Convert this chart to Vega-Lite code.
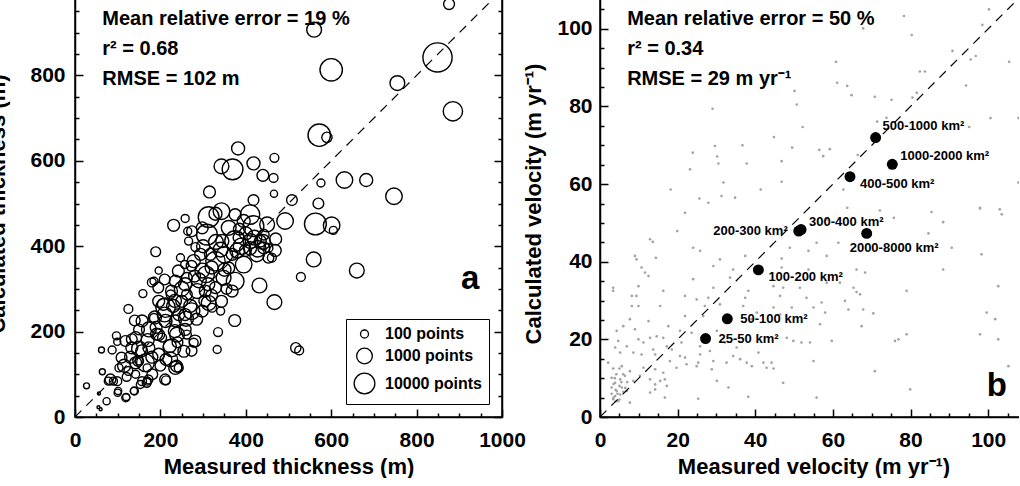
{
  "$schema": "https://vega.github.io/schema/vega-lite/v6.json",
  "background": "white",
  "padding": {"left": -15, "top": -22, "right": -10, "bottom": 0},
  "autosize": {"type": "pad"},
  "bounds": "flush",
  "spacing": 98,
  "config": {
    "font": "Liberation Sans",
    "view": {"stroke": "black", "strokeWidth": 1.5},
    "axis": {
      "grid": false,
      "labelFont": "Liberation Sans",
      "labelFontWeight": "bold",
      "labelFontSize": 21,
      "labelColor": "black",
      "labelFlush": false,
      "labelOverlap": false,
      "titleFont": "Liberation Sans",
      "titleFontWeight": "bold",
      "titleFontSize": 22,
      "titleColor": "black",
      "domainColor": "black",
      "domainWidth": 1.5,
      "tickColor": "black",
      "tickWidth": 1.5
    },
    "text": {"font": "Liberation Sans", "fontWeight": "bold", "color": "black"}
  },
  "datasets": {
    "thick": [
      {"m":876,"c":967,"n":200},{"m":560,"c":907,"n":700},{"m":600,"c":813,"n":25000},{"m":849,"c":842,"n":2000000},
      {"m":755,"c":782,"n":700},{"m":885,"c":716,"n":5000},{"m":572,"c":660,"n":25000},{"m":590,"c":655,"n":170},
      {"m":382,"c":629,"n":380},{"m":343,"c":587,"n":700},{"m":369,"c":580,"n":10000},{"m":418,"c":594,"n":380},
      {"m":467,"c":607,"n":120},{"m":440,"c":566,"n":260},{"m":465,"c":560,"n":120},{"m":466,"c":523,"n":85},
      {"m":576,"c":548,"n":100},{"m":631,"c":555,"n":1400},{"m":682,"c":555,"n":380},{"m":747,"c":517,"n":1400},
      {"m":508,"c":508,"n":190},{"m":570,"c":500,"n":190},{"m":315,"c":527,"n":260},{"m":418,"c":508,"n":190},
      {"m":563,"c":452,"n":18000},{"m":601,"c":449,"n":1400},{"m":605,"c":437,"n":100},{"m":492,"c":459,"n":1400},
      {"m":470,"c":417,"n":260},{"m":559,"c":369,"n":700},{"m":529,"c":328,"n":120},{"m":660,"c":343,"n":700},
      {"m":432,"c":308,"n":700},{"m":467,"c":269,"n":700},{"m":374,"c":226,"n":260},{"m":335,"c":199,"n":120},
      {"m":333,"c":158,"n":100},{"m":517,"c":162,"n":170},{"m":525,"c":156,"n":120},{"m":341,"c":248,"n":100},
      {"m":428,"c":394,"n":1400},{"m":453,"c":373,"n":190},{"m":231,"c":449,"n":260},{"m":258,"c":465,"n":100},
      {"m":264,"c":435,"n":100},{"m":189,"c":387,"n":150},{"m":313,"c":468,"n":10000},{"m":343,"c":482,"n":1400},
      {"m":375,"c":474,"n":260},{"m":410,"c":474,"n":5000},{"m":418,"c":447,"n":10000},{"m":450,"c":451,"n":700},
      {"m":27,"c":73,"n":70},{"m":62,"c":157,"n":70},{"m":87,"c":157,"n":100},{"m":97,"c":190,"n":100},
      {"m":99,"c":176,"n":85},{"m":56,"c":55,"n":50},{"m":55,"c":23,"n":50},{"m":60,"c":18,"n":50},
      {"m":74,"c":37,"n":85},{"m":64,"c":106,"n":70},{"m":83,"c":88,"n":190},{"m":99,"c":84,"n":120},
      {"m":103,"c":115,"n":100},{"m":101,"c":61,"n":85},{"m":120,"c":47,"n":85},{"m":138,"c":61,"n":85},
      {"m":125,"c":253,"n":120},{"m":140,"c":226,"n":190},{"m":133,"c":162,"n":260},{"m":142,"c":127,"n":260},
      {"m":157,"c":84,"n":120},{"m":169,"c":84,"n":100},{"m":150,"c":131,"n":100},{"m":165,"c":127,"n":2300},
      {"m":173,"c":205,"n":700},{"m":159,"c":289,"n":100},{"m":185,"c":318,"n":100},{"m":196,"c":343,"n":85},
      {"m":210,"c":322,"n":190},{"m":212,"c":256,"n":5000},{"m":213,"c":135,"n":260},{"m":213,"c":86,"n":120},
      {"m":227,"c":162,"n":2300},{"m":235,"c":115,"n":380},{"m":239,"c":193,"n":700},{"m":247,"c":373,"n":100},
      {"m":257,"c":357,"n":100},{"m":262,"c":326,"n":190},{"m":266,"c":412,"n":100},{"m":273,"c":248,"n":1400},
      {"m":278,"c":174,"n":120},{"m":285,"c":229,"n":260},{"m":282,"c":398,"n":120},{"m":286,"c":295,"n":700},
      {"m":307,"c":334,"n":1400},{"m":313,"c":267,"n":700},{"m":309,"c":427,"n":10000},{"m":329,"c":365,"n":5000},
      {"m":348,"c":326,"n":700},{"m":368,"c":295,"n":260},{"m":375,"c":412,"n":10000},{"m":395,"c":357,"n":1400},
      {"m":411,"c":412,"n":700},{"m":426,"c":381,"n":700},{"m":442,"c":396,"n":260},{"m":461,"c":373,"n":120},
      {"m":360,"c":443,"n":700},{"m":341,"c":392,"n":700},{"m":294,"c":381,"n":260},{"m":375,"c":318,"n":2300},
      {"m":329,"c":303,"n":260},{"m":305,"c":295,"n":260},{"m":250,"c":271,"n":260},{"m":235,"c":225,"n":260},
      {"m":224,"c":287,"n":120},{"m":173,"c":162,"n":260},{"m":196,"c":193,"n":260},{"m":185,"c":232,"n":120},
      {"m":125,"c":108,"n":120},{"m":109,"c":139,"n":190},{"m":142,"c":100,"n":100},{"m":169,"c":115,"n":100},
      {"m":204,"c":186,"n":120},{"m":262,"c":193,"n":120},{"m":255,"c":154,"n":260},{"m":223,"c":135,"n":700},
      {"m":196,"c":147,"n":260},{"m":243,"c":240,"n":260},{"m":262,"c":287,"n":190},{"m":298,"c":343,"n":700},
      {"m":317,"c":381,"n":260},{"m":345,"c":412,"n":380},{"m":368,"c":381,"n":260},{"m":383,"c":420,"n":190},
      {"m":399,"c":390,"n":260},{"m":329,"c":476,"n":380},{"m":298,"c":443,"n":260},{"m":274,"c":435,"n":190},
      {"m":360,"c":349,"n":260},{"m":321,"c":256,"n":120},{"m":196,"c":271,"n":260},{"m":157,"c":225,"n":260},
      {"m":142,"c":186,"n":260},{"m":118,"c":178,"n":190},{"m":181,"c":100,"n":190},{"m":243,"c":115,"n":120},
      {"m":212,"c":225,"n":380},{"m":278,"c":365,"n":380},{"m":235,"c":318,"n":260},{"m":343,"c":271,"n":260},
      {"m":298,"c":248,"n":260},{"m":395,"c":459,"n":380},{"m":442,"c":427,"n":190},{"m":453,"c":396,"n":120},
      {"m":469,"c":390,"n":260},{"m":434,"c":412,"n":260},
      {"m":78,"c":84,"n":100},{"m":90,"c":84,"n":100},{"m":100,"c":57,"n":85},{"m":119,"c":45,"n":100},
      {"m":139,"c":61,"n":100},{"m":121,"c":94,"n":120},{"m":180,"c":315,"n":120},{"m":133,"c":182,"n":190},
      {"m":156,"c":155,"n":260},{"m":148,"c":131,"n":190},{"m":168,"c":80,"n":120},{"m":153,"c":76,"n":100},
      {"m":172,"c":88,"n":120},{"m":211,"c":88,"n":190},{"m":222,"c":166,"n":380},{"m":234,"c":201,"n":380},
      {"m":258,"c":205,"n":260},{"m":281,"c":178,"n":260},{"m":273,"c":155,"n":190},{"m":238,"c":119,"n":260},
      {"m":191,"c":194,"n":260},{"m":187,"c":233,"n":380},{"m":207,"c":264,"n":260},{"m":234,"c":272,"n":380},
      {"m":258,"c":240,"n":260},{"m":226,"c":295,"n":260},{"m":195,"c":303,"n":190},{"m":304,"c":272,"n":260},
      {"m":312,"c":311,"n":380},{"m":258,"c":311,"n":380},{"m":242,"c":342,"n":260},{"m":273,"c":354,"n":190},
      {"m":290,"c":320,"n":700},{"m":320,"c":350,"n":380},{"m":350,"c":380,"n":1400},{"m":380,"c":390,"n":700},
      {"m":400,"c":430,"n":380},{"m":420,"c":420,"n":700},{"m":330,"c":410,"n":700},{"m":300,"c":400,"n":380},
      {"m":280,"c":330,"n":260},{"m":250,"c":300,"n":700},{"m":230,"c":260,"n":380},{"m":210,"c":240,"n":700},
      {"m":190,"c":210,"n":260},{"m":170,"c":180,"n":380},{"m":150,"c":160,"n":700},{"m":130,"c":140,"n":260},
      {"m":115,"c":120,"n":380},{"m":240,"c":175,"n":190},{"m":260,"c":230,"n":700},{"m":350,"c":345,"n":380},
      {"m":390,"c":400,"n":1400},{"m":410,"c":395,"n":380},{"m":355,"c":300,"n":190},{"m":320,"c":285,"n":260},
      {"m":200,"c":120,"n":190},{"m":180,"c":140,"n":260},{"m":150,"c":205,"n":190},{"m":270,"c":260,"n":380},
      {"m":440,"c":410,"n":700},{"m":385,"c":440,"n":260}
    ],
    "vel": [
      {"m":100.2,"c":105.0},{"m":78.3,"c":103.3},{"m":67.8,"c":100.1},{"m":80.3,"c":98.4},{"m":98.5,"c":101},
      {"m":90.8,"c":94.3},{"m":95.5,"c":92.1},{"m":96.8,"c":93},{"m":105.4,"c":91.5},{"m":60.8,"c":91.5},
      {"m":82.4,"c":89},{"m":83.7,"c":89},{"m":94.3,"c":85.4},{"m":61.1,"c":86.1},{"m":63.7,"c":85.3},
      {"m":50.1,"c":84},{"m":81.6,"c":83.5},{"m":64.8,"c":82.9},{"m":70.8,"c":82.5},{"m":75.1,"c":81.7},
      {"m":80.5,"c":82.3},{"m":50.7,"c":80.5},{"m":29,"c":79.4},{"m":100.6,"c":77},{"m":107.8,"c":77},
      {"m":71.4,"c":76.1},{"m":73.8,"c":77.1},{"m":95.1,"c":74.7},{"m":52.2,"c":74.7},{"m":44.8,"c":72.1},
      {"m":29.6,"c":69.8},{"m":36.7,"c":70},{"m":49.5,"c":69.4},{"m":56.5,"c":68.8},{"m":59.2,"c":69},
      {"m":23.9,"c":68.1},{"m":30.2,"c":67.1},{"m":57.5,"c":67.2},{"m":30.5,"c":65.3},{"m":37.8,"c":65.3},
      {"m":46.8,"c":65.9},{"m":66.4,"c":67.5},{"m":23.2,"c":63.8},{"m":46.8,"c":60.6},{"m":31.8,"c":60.4},
      {"m":18.2,"c":58.6},{"m":41.4,"c":58.6},{"m":62.7,"c":58.6},{"m":25.6,"c":56.3},{"m":27.9,"c":55.2},
      {"m":31.3,"c":56.9},{"m":34.8,"c":56.5},{"m":72.1,"c":53.2},{"m":63.7,"c":53.9},{"m":107.8,"c":60.4},
      {"m":97.9,"c":53.9},{"m":103,"c":53.5},
      {"m":21.9,"c":52.6},{"m":85.4,"c":52.8},{"m":97.9,"c":53.7},{"m":103.5,"c":52.2},{"m":75.7,"c":51.3},
      {"m":88.4,"c":50.2},{"m":58.4,"c":50.9},{"m":19.9,"c":47.9},{"m":84.6,"c":47.3},{"m":12.9,"c":45.8},
      {"m":13.6,"c":45.1},{"m":24,"c":43.6},{"m":25.8,"c":42.8},{"m":9,"c":41.5},{"m":9.4,"c":40.6},
      {"m":14.4,"c":41},{"m":30.9,"c":40.6},{"m":37.4,"c":41.5},{"m":46.8,"c":40.8},{"m":53.7,"c":42.8},
      {"m":58.4,"c":41.5},{"m":61.4,"c":44.9},{"m":55.8,"c":44.9},{"m":48.9,"c":43.6},{"m":90.6,"c":43.6},
      {"m":98.3,"c":41.9},{"m":10.7,"c":38.5},{"m":11.6,"c":37.2},{"m":12.5,"c":36.3},{"m":29.2,"c":38.9},
      {"m":34.3,"c":38},{"m":46.8,"c":38.5},{"m":53.7,"c":38},{"m":66.1,"c":38},{"m":88.4,"c":38},
      {"m":68.3,"c":37.2},{"m":3.4,"c":33.3},{"m":3.4,"c":32.5},{"m":9.9,"c":33.7},{"m":16.3,"c":32.5},
      {"m":24,"c":35.5},{"m":29.2,"c":33.3},{"m":33.5,"c":35.9},{"m":38.2,"c":32.5},{"m":44.7,"c":33.7},
      {"m":47.2,"c":33.3},{"m":51.5,"c":33.3},{"m":58.4,"c":34.6},{"m":61.8,"c":34.6},{"m":65.3,"c":33.3},
      {"m":66.1,"c":32.2},{"m":79,"c":32.5},{"m":102.6,"c":33.7},{"m":8.2,"c":31.2},{"m":9.4,"c":31.2},
      {"m":21.9,"c":31.2},{"m":24.9,"c":30.3},{"m":27.9,"c":30.7},{"m":37.4,"c":30.7},{"m":46.4,"c":31.2},
      {"m":53.2,"c":30.7},{"m":57.1,"c":29.5},{"m":63.1,"c":29.9},{"m":67,"c":31.6},{"m":8.2,"c":28.6},
      {"m":9.9,"c":28.6},{"m":15.5,"c":28.6},{"m":27,"c":28.6},{"m":30.9,"c":29},{"m":36.9,"c":28.6},
      {"m":40.4,"c":26.9},{"m":44.7,"c":28.2},{"m":49.4,"c":28.2},{"m":55,"c":28.2},{"m":64,"c":27.7},
      {"m":67.8,"c":27.7},{"m":99.6,"c":26.9},{"m":7.7,"c":25.2},{"m":12.5,"c":24.7},{"m":21.9,"c":26},
      {"m":26.6,"c":26},{"m":39.1,"c":25.2},{"m":46.4,"c":26.4},{"m":58,"c":26.9},{"m":70.4,"c":26.7},
      {"m":101.8,"c":25.2},{"m":4.3,"c":22.2},{"m":6,"c":23.4},{"m":9,"c":22.6},{"m":17.6,"c":23.4},
      {"m":20.6,"c":22.2},{"m":23.6,"c":21.7},{"m":30.1,"c":22.2},{"m":56.7,"c":23.9},{"m":67.4,"c":23.4},
      {"m":79,"c":21.3},{"m":76.9,"c":20},{"m":76,"c":19.6},{"m":97.9,"c":21.3},{"m":102.6,"c":20},
      {"m":4.7,"c":19.6},{"m":6.9,"c":18.2},{"m":9.9,"c":20},{"m":11.2,"c":19.2},{"m":12.9,"c":20.4},
      {"m":14.6,"c":20.8},{"m":16.3,"c":20.4},{"m":17.2,"c":18.2},{"m":21,"c":19.2},{"m":25.8,"c":18.2},
      {"m":32.2,"c":19.2},{"m":35.2,"c":17.9},{"m":48.1,"c":20.4},{"m":49.8,"c":19.6},{"m":51.9,"c":19.2},
      {"m":54.1,"c":19.2},{"m":59.7,"c":19.6},{"m":3.9,"c":17.9},{"m":5.2,"c":16.6},{"m":8.6,"c":16.6},
      {"m":10.7,"c":16.1},{"m":13.7,"c":17.4},{"m":14.2,"c":16.1},{"m":18.5,"c":17.4},{"m":20.6,"c":15.7},
      {"m":21.9,"c":15.3},{"m":25.8,"c":16.1},{"m":28.3,"c":17},{"m":34.3,"c":15.7},{"m":36.1,"c":14.9},
      {"m":40.8,"c":16.6},{"m":18,"c":14.4},{"m":22.3,"c":13.6},{"m":25.3,"c":14},{"m":29.2,"c":14.4},
      {"m":32.6,"c":14},{"m":37.8,"c":14},{"m":42.1,"c":14},{"m":44.2,"c":14},{"m":44.7,"c":12.5},
      {"m":55,"c":14.4},{"m":42.9,"c":12.7},{"m":2.1,"c":14},{"m":3.4,"c":12.5},{"m":5.6,"c":13.1},
      {"m":7.7,"c":11.8},{"m":11.2,"c":12.7},{"m":14.2,"c":12.3},{"m":16.3,"c":11.4},{"m":19.7,"c":12.7},
      {"m":24.9,"c":13.1},{"m":28.8,"c":12.3},{"m":39.1,"c":13.1},{"m":70.8,"c":11.8},{"m":105.2,"c":13.1},
      {"m":3,"c":10.1},{"m":3.9,"c":8.8},{"m":5.2,"c":9.7},{"m":6.4,"c":10.6},{"m":8.6,"c":9.3},
      {"m":10.3,"c":10.6},{"m":12.9,"c":9.7},{"m":14.2,"c":8.4},{"m":15.5,"c":9.3},{"m":17.2,"c":8},
      {"m":16.7,"c":9.7},{"m":30.1,"c":9.3},{"m":47.2,"c":8.8},{"m":3,"c":7.6},{"m":4.3,"c":6.7},
      {"m":5.6,"c":7.6},{"m":6.9,"c":6.7},{"m":3.9,"c":5.4},{"m":5.2,"c":5.8},{"m":12.9,"c":6.3},
      {"m":14.2,"c":7.1},{"m":16.7,"c":5},{"m":33.1,"c":7.6},{"m":79.9,"c":7.1},{"m":3.4,"c":4.6},
      {"m":4.7,"c":4.1},{"m":7.7,"c":3.7},{"m":25.3,"c":4.7},{"m":38.2,"c":5.2},{"m":55.8,"c":5},
      {"m":3.5,"c":5},{"m":4,"c":7},{"m":4.5,"c":6},{"m":5,"c":8},{"m":5.5,"c":9},{"m":3.8,"c":10},
      {"m":4.2,"c":11},{"m":6,"c":6.5},{"m":6.5,"c":7.5},{"m":5,"c":4.5},{"m":4,"c":4},{"m":3,"c":6},
      {"m":7,"c":9},{"m":6,"c":11},{"m":5,"c":12.5},{"m":3.5,"c":8.5}
    ],
    "groups": [
      {"g":"25-50 km²","m":27.2,"c":20.2},
      {"g":"50-100 km²","m":32.8,"c":25.3},
      {"g":"100-200 km²","m":40.8,"c":37.9},
      {"g":"200-300 km²","m":51.2,"c":47.9},
      {"g":"300-400 km²","m":51.8,"c":48.3},
      {"g":"400-500 km²","m":64.4,"c":61.9},
      {"g":"500-1000 km²","m":71.0,"c":72.0},
      {"g":"1000-2000 km²","m":75.3,"c":65.1},
      {"g":"2000-8000 km²","m":68.7,"c":47.3}
    ]
  },
  "hconcat": [
    {
      "width": 427,
      "height": 427,
      "layer": [
        {
          "data": {"name": "thick"},
          "mark": {"type": "point", "shape": "circle", "filled": false, "stroke": "black", "strokeWidth": 1.4, "opacity": 1},
          "encoding": {
            "x": {
              "field": "m", "type": "quantitative",
              "scale": {"domain": [0, 1000], "nice": false, "zero": false},
              "axis": {
                "orient": "bottom",
                "title": "Measured thickness (m)",
                "titlePadding": 2,
                "values": [0,50,100,150,200,250,300,350,400,450,500,550,600,650,700,750,800,850,900,950,1000],
                "labelExpr": "datum.value % 200 === 0 ? '' + datum.value : ''",
                "tickSize": {"condition": {"test": "datum.value % 200 === 0", "value": -8}, "value": -4},
                "labelPadding": 20
              }
            },
            "y": {
              "field": "c", "type": "quantitative",
              "scale": {"domain": [0, 1000], "nice": false, "zero": false},
              "axis": {
                "orient": "left",
                "title": "Calculated thickness (m)",
                "titlePadding": 9,
                "values": [0,50,100,150,200,250,300,350,400,450,500,550,600,650,700,750,800,850,900,950,1000],
                "labelExpr": "datum.value % 200 === 0 ? '' + datum.value : ''",
                "tickSize": {"condition": {"test": "datum.value % 200 === 0", "value": -8}, "value": -4},
                "labelPadding": 18
              }
            },
            "size": {
              "field": "n", "type": "quantitative",
              "scale": {"type": "log", "domain": [100, 10000], "range": [64, 430]},
              "legend": {
                "orient": "bottom-right",
                "offset": 13,
                "title": null,
                "values": [100, 1000, 10000],
                "labelExpr": "datum.value + ' points'",
                "symbolType": "circle",
                "symbolFillColor": "transparent",
                "symbolStrokeColor": "black",
                "symbolStrokeWidth": 1.3,
                "strokeColor": "black",
                "fillColor": "white",
                "padding": 7,
                "rowPadding": 3,
                "labelOffset": 9,
                "labelFont": "Liberation Sans",
                "labelFontWeight": "bold",
                "labelFontSize": 16,
                "labelColor": "black"
              }
            }
          }
        },
        {
          "data": {"values": [{"m": 0, "c": 0}, {"m": 1000, "c": 1000}]},
          "mark": {"type": "line", "color": "black", "strokeWidth": 1.2, "strokeDash": [9, 7], "clip": true},
          "encoding": {
            "x": {
              "field": "m", "type": "quantitative",
              "axis": {
                "orient": "top", "title": null, "labels": false,
                "values": [0,50,100,150,200,250,300,350,400,450,500,550,600,650,700,750,800,850,900,950,1000],
                "tickSize": {"condition": {"test": "datum.value % 200 === 0", "value": -8}, "value": -4}
              }
            },
            "y": {
              "field": "c", "type": "quantitative",
              "axis": {
                "orient": "right", "title": null, "labels": false,
                "values": [0,50,100,150,200,250,300,350,400,450,500,550,600,650,700,750,800,850,900,950,1000],
                "tickSize": {"condition": {"test": "datum.value % 200 === 0", "value": -8}, "value": -4}
              }
            }
          }
        },
        {
          "data": {"values": [
            {"t": "Mean relative error = 19 %", "m": 64, "c": 932},
            {"t": "r² = 0.68", "m": 64, "c": 862},
            {"t": "RMSE = 102 m", "m": 64, "c": 792}
          ]},
          "mark": {"type": "text", "align": "left", "baseline": "middle", "fontSize": 20, "fontWeight": "bold", "color": "black"},
          "encoding": {
            "x": {"field": "m", "type": "quantitative", "axis": null},
            "y": {"field": "c", "type": "quantitative", "axis": null},
            "text": {"field": "t"}
          }
        },
        {
          "data": {"values": [{"t": "a", "m": 904, "c": 300}]},
          "mark": {"type": "text", "align": "left", "baseline": "alphabetic", "fontSize": 33, "fontWeight": "bold", "color": "black"},
          "encoding": {
            "x": {"field": "m", "type": "quantitative", "axis": null},
            "y": {"field": "c", "type": "quantitative", "axis": null},
            "text": {"field": "t"}
          }
        }
      ],
      "resolve": {"axis": {"x": "independent", "y": "independent"}}
    },
    {
      "width": 427,
      "height": 427,
      "layer": [
        {
          "data": {"name": "vel"},
          "mark": {"type": "circle", "color": "#a2a2a2", "size": 7, "opacity": 1},
          "encoding": {
            "x": {
              "field": "m", "type": "quantitative",
              "scale": {"domain": [0, 110], "nice": false, "zero": false},
              "axis": {
                "orient": "bottom",
                "title": "Measured velocity (m yr⁻¹)",
                "titlePadding": 2,
                "values": [0,5,10,15,20,25,30,35,40,45,50,55,60,65,70,75,80,85,90,95,100,105,110],
                "labelExpr": "datum.value % 20 === 0 ? '' + datum.value : ''",
                "tickSize": {"condition": {"test": "datum.value % 20 === 0", "value": -8}, "value": -4},
                "labelPadding": 20
              }
            },
            "y": {
              "field": "c", "type": "quantitative",
              "scale": {"domain": [0, 110], "nice": false, "zero": false},
              "axis": {
                "orient": "left",
                "title": "Calculated velocity (m yr⁻¹)",
                "titlePadding": 11,
                "values": [0,5,10,15,20,25,30,35,40,45,50,55,60,65,70,75,80,85,90,95,100,105,110],
                "labelExpr": "datum.value % 20 === 0 ? '' + datum.value : ''",
                "tickSize": {"condition": {"test": "datum.value % 20 === 0", "value": -8}, "value": -4},
                "labelPadding": 16
              }
            }
          }
        },
        {
          "data": {"values": [{"m": 0, "c": 0}, {"m": 110, "c": 110}]},
          "mark": {"type": "line", "color": "black", "strokeWidth": 1.2, "strokeDash": [9, 7], "clip": true},
          "encoding": {
            "x": {
              "field": "m", "type": "quantitative",
              "axis": {
                "orient": "top", "title": null, "labels": false,
                "values": [0,5,10,15,20,25,30,35,40,45,50,55,60,65,70,75,80,85,90,95,100,105,110],
                "tickSize": {"condition": {"test": "datum.value % 20 === 0", "value": -8}, "value": -4}
              }
            },
            "y": {
              "field": "c", "type": "quantitative",
              "axis": {
                "orient": "right", "title": null, "labels": false,
                "values": [0,5,10,15,20,25,30,35,40,45,50,55,60,65,70,75,80,85,90,95,100,105,110],
                "tickSize": {"condition": {"test": "datum.value % 20 === 0", "value": -8}, "value": -4}
              }
            }
          }
        },
        {
          "data": {"name": "groups"},
          "mark": {"type": "circle", "color": "black", "size": 120, "opacity": 1},
          "encoding": {
            "x": {"field": "m", "type": "quantitative", "axis": null},
            "y": {"field": "c", "type": "quantitative", "axis": null}
          }
        },
        {
          "data": {"name": "groups"},
          "transform": [{"filter": {"field": "g", "oneOf": ["25-50 km²", "50-100 km²"]}}],
          "mark": {"type": "text", "align": "left", "baseline": "middle", "dx": 13, "dy": 0, "fontSize": 13, "fontWeight": "bold", "color": "black"},
          "encoding": {
            "x": {"field": "m", "type": "quantitative", "axis": null},
            "y": {"field": "c", "type": "quantitative", "axis": null},
            "text": {"field": "g"}
          }
        },
        {
          "data": {"name": "groups"},
          "transform": [{"filter": {"field": "g", "oneOf": ["100-200 km²", "400-500 km²"]}}],
          "mark": {"type": "text", "align": "left", "baseline": "middle", "dx": 10, "dy": 7, "fontSize": 13, "fontWeight": "bold", "color": "black"},
          "encoding": {
            "x": {"field": "m", "type": "quantitative", "axis": null},
            "y": {"field": "c", "type": "quantitative", "axis": null},
            "text": {"field": "g"}
          }
        },
        {
          "data": {"name": "groups"},
          "transform": [{"filter": {"field": "g", "oneOf": ["300-400 km²", "1000-2000 km²"]}}],
          "mark": {"type": "text", "align": "left", "baseline": "middle", "dx": 8, "dy": -8, "fontSize": 13, "fontWeight": "bold", "color": "black"},
          "encoding": {
            "x": {"field": "m", "type": "quantitative", "axis": null},
            "y": {"field": "c", "type": "quantitative", "axis": null},
            "text": {"field": "g"}
          }
        },
        {
          "data": {"name": "groups"},
          "transform": [{"filter": {"field": "g", "oneOf": ["500-1000 km²"]}}],
          "mark": {"type": "text", "align": "left", "baseline": "middle", "dx": 7, "dy": -12, "fontSize": 13, "fontWeight": "bold", "color": "black"},
          "encoding": {
            "x": {"field": "m", "type": "quantitative", "axis": null},
            "y": {"field": "c", "type": "quantitative", "axis": null},
            "text": {"field": "g"}
          }
        },
        {
          "data": {"name": "groups"},
          "transform": [{"filter": {"field": "g", "oneOf": ["200-300 km²"]}}],
          "mark": {"type": "text", "align": "right", "baseline": "middle", "dx": -11, "dy": 0, "fontSize": 13, "fontWeight": "bold", "color": "black"},
          "encoding": {
            "x": {"field": "m", "type": "quantitative", "axis": null},
            "y": {"field": "c", "type": "quantitative", "axis": null},
            "text": {"field": "g"}
          }
        },
        {
          "data": {"name": "groups"},
          "transform": [{"filter": {"field": "g", "oneOf": ["2000-8000 km²"]}}],
          "mark": {"type": "text", "align": "left", "baseline": "middle", "dx": -17, "dy": 15, "fontSize": 13, "fontWeight": "bold", "color": "black"},
          "encoding": {
            "x": {"field": "m", "type": "quantitative", "axis": null},
            "y": {"field": "c", "type": "quantitative", "axis": null},
            "text": {"field": "g"}
          }
        },
        {
          "data": {"values": [
            {"t": "Mean relative error = 50 %", "m": 7.0, "c": 102.5},
            {"t": "r²  = 0.34", "m": 7.0, "c": 94.8},
            {"t": "RMSE = 29 m yr⁻¹", "m": 7.0, "c": 87.1}
          ]},
          "mark": {"type": "text", "align": "left", "baseline": "middle", "fontSize": 20, "fontWeight": "bold", "color": "black"},
          "encoding": {
            "x": {"field": "m", "type": "quantitative", "axis": null},
            "y": {"field": "c", "type": "quantitative", "axis": null},
            "text": {"field": "t"}
          }
        },
        {
          "data": {"values": [{"t": "b", "m": 99.6, "c": 5.4}]},
          "mark": {"type": "text", "align": "left", "baseline": "alphabetic", "fontSize": 33, "fontWeight": "bold", "color": "black"},
          "encoding": {
            "x": {"field": "m", "type": "quantitative", "axis": null},
            "y": {"field": "c", "type": "quantitative", "axis": null},
            "text": {"field": "t"}
          }
        }
      ],
      "resolve": {"axis": {"x": "independent", "y": "independent"}}
    }
  ],
  "resolve": {"scale": {"x": "independent", "y": "independent", "size": "independent"}, "legend": {"size": "independent"}}
}
